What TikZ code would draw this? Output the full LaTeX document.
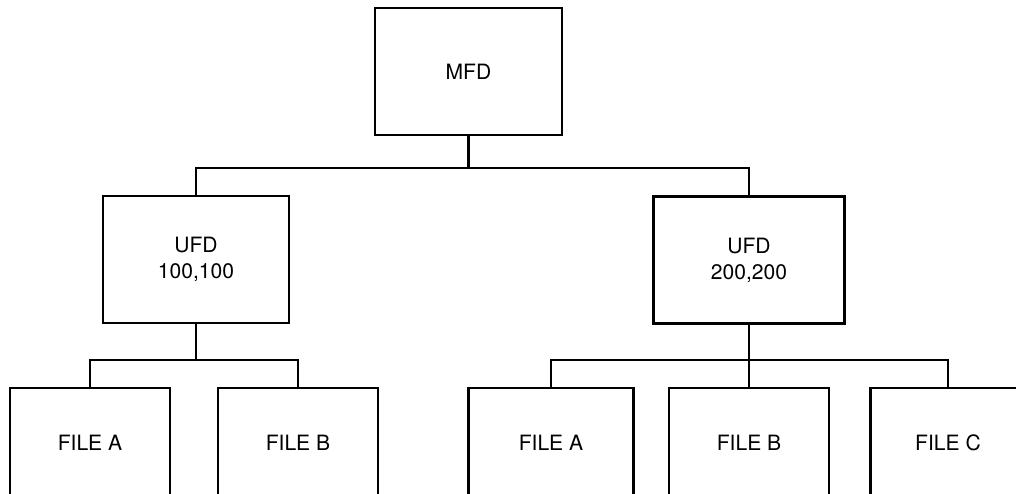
\documentclass[tikz,border=0pt]{standalone}
\usepackage{fontspec}
\setmainfont{TeX Gyre Heros}
\tikzset{
  dirbox/.style={draw, line width=1.5pt, align=center, minimum width=3.74cm, minimum height=2.54cm,
    font=\fontsize{12}{14.7}\selectfont},
  filebox/.style={dirbox, minimum width=3.2cm, minimum height=2.2cm},
  link/.style={line width=1.5pt}
}
\begin{document}
\begin{tikzpicture}[x=0.02cm, y=-0.02cm]
    % page frame (pixel units)
    \useasboundingbox (0,0) rectangle (1016,493);
    \clip (0,0) rectangle (1016,493);

    % master and user directories
    \node[dirbox] (mfd) at (468.5,71.5) {MFD};
    \node[dirbox, minimum width=3.72cm] (ufdA) at (196,259.5) {UFD\\100,100};
    \node[dirbox, minimum width=3.82cm] (ufdB) at (749,260) {UFD\\200,200};

    % files of 100,100
    \node[filebox] (fileAA) at (90,443) {FILE A};
    \node[filebox] (fileAB) at (298,443) {FILE B};

    % files of 200,200
    \node[filebox, minimum width=3.3cm] (fileBA) at (551,443) {FILE A};
    \node[filebox] (fileBB) at (749,443) {FILE B};
    \node[filebox, minimum width=3.1cm] (fileBC) at (948,443) {FILE C};

    % connectors
    \coordinate (busTop) at (468.5,168);
    \coordinate (busA) at (196,360);
    \coordinate (busB) at (749,360);

    \draw[link] (mfd.south) -- (busTop);
    \draw[link] (ufdA.north) |- (busTop) -| (ufdB.north);

    \draw[link] (ufdA.south) -- (busA);
    \draw[link] (fileAA.north) |- (busA) -| (fileAB.north);

    \draw[link] (ufdB.south) -- (fileBB.north);
    \draw[link] (fileBA.north) |- (busB) -| (fileBC.north);
\end{tikzpicture}
\end{document}
